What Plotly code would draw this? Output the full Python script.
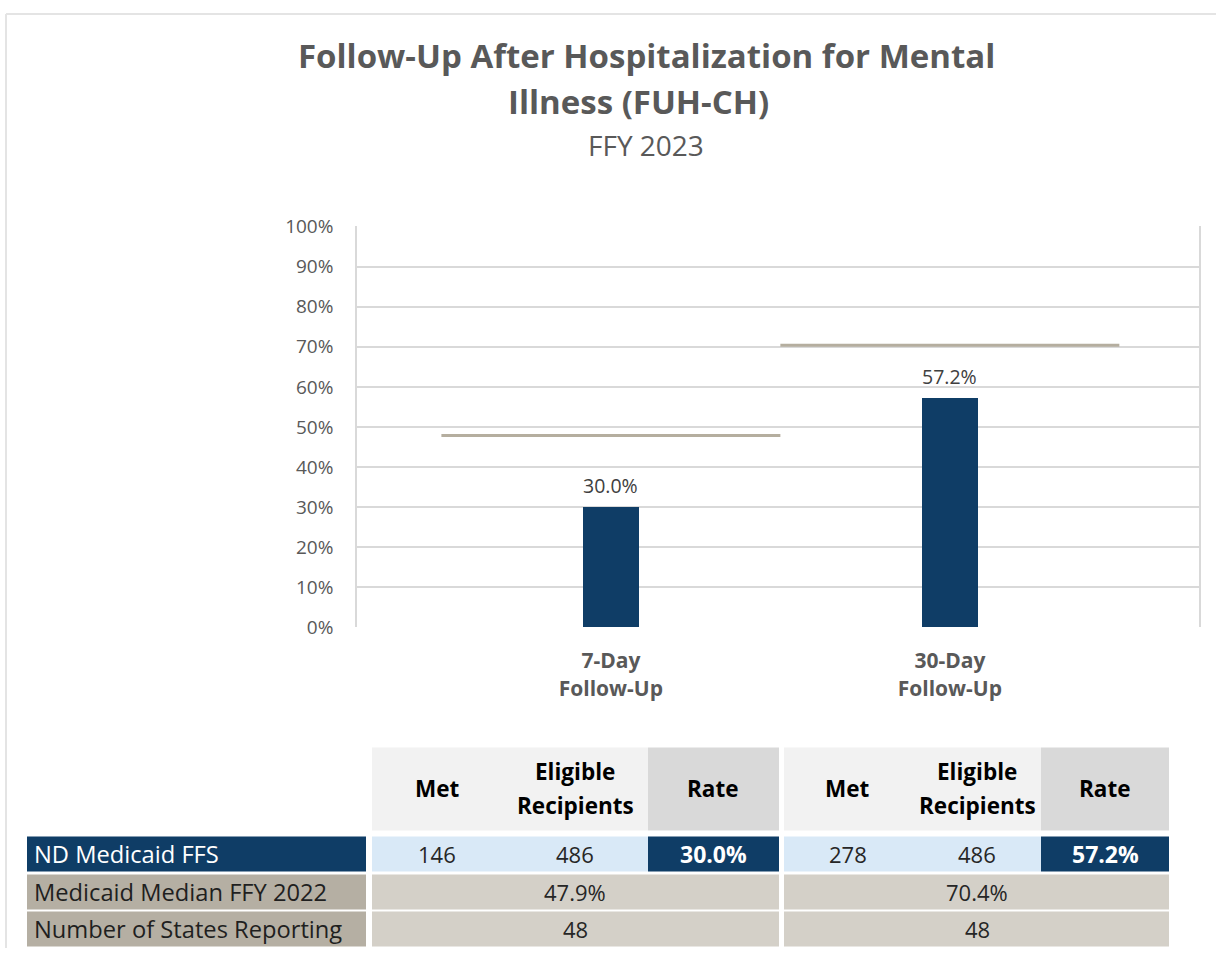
import plotly.graph_objects as go

# ---------------- data ----------------
categories = ["7-Day<br>Follow-Up", "30-Day<br>Follow-Up"]
nd_rate = [30.0, 57.2]
median_2022 = [47.9, 70.4]
met = [146, 278]
eligible = [486, 486]
states_reporting = [48, 48]
row_labels = ["ND Medicaid FFS", "Medicaid Median FFY 2022", "Number of States Reporting"]
header_labels = ["Met", "Eligible<br>Recipients", "Rate"]
y_ticks = list(range(0, 101, 10))
y_ticktext = [f"{v}%" for v in y_ticks]

W, H = 1216, 961
FONT = "Open Sans"
NAVY = "#0F3D66"
GRAY_TXT = "#595959"
TAN_LINE = "#B5AE9F"

# vertical mapping of target pixel rows to layout rows
YS, YO = 0.973, 14.5

def px(x):
    return x / W

def py(y):
    yl = (y - YO) / YS
    return 1 - yl / H

xpos = list(range(len(categories)))

fig = go.Figure()

# bars
fig.add_trace(go.Bar(
    x=xpos, y=nd_rate, width=0.165, marker=dict(color=NAVY, line=dict(width=0)),
    showlegend=False, hoverinfo="skip",
))
# median lines
for i, m in enumerate(median_2022):
    fig.add_trace(go.Scatter(
        x=[xpos[i] - 0.5, xpos[i] + 0.5], y=[m, m], mode="lines",
        line=dict(color=TAN_LINE, width=3), showlegend=False, hoverinfo="skip",
    ))

annotations = []
# data labels
for i, v in enumerate(nd_rate):
    annotations.append(dict(
        x=xpos[i], y=v, xref="x", yref="y", text=f"{v:.1f}%", showarrow=False,
        yanchor="bottom", yshift=6, font=dict(family=FONT, size=19.5, color="#404040"),
    ))

# titles
annotations.append(dict(x=px(646), y=py(57), xref="paper", yref="paper",
                        text="Follow-Up After Hospitalization for Mental", showarrow=False,
                        xanchor="center", yanchor="middle",
                        font=dict(family=FONT, size=33, color=GRAY_TXT, weight=700)))
annotations.append(dict(x=px(638), y=py(103), xref="paper", yref="paper",
                        text="Illness (FUH-CH)", showarrow=False,
                        xanchor="center", yanchor="middle",
                        font=dict(family=FONT, size=33, color=GRAY_TXT, weight=700)))
annotations.append(dict(x=px(646), y=py(147), xref="paper", yref="paper",
                        text="FFY 2023", showarrow=False,
                        xanchor="center", yanchor="middle",
                        font=dict(family=FONT, size=28, color=GRAY_TXT)))

shapes = []
# outer border (left & top)
shapes.append(dict(type="line", xref="paper", yref="paper", x0=px(6), x1=px(6), y0=0, y1=0.999,
                   line=dict(color="#E4E4E4", width=2)))
shapes.append(dict(type="line", xref="paper", yref="paper", x0=px(6), x1=1, y0=0.999, y1=0.999,
                   line=dict(color="#E4E4E4", width=2)))

def rect(x0, x1, y0, y1, color):
    shapes.append(dict(type="rect", xref="paper", yref="paper", x0=px(x0), x1=px(x1),
                       y0=py(y1), y1=py(y0), fillcolor=color, line=dict(width=0), layer="below"))

def text(x, y, t, size=22, color="#262626", weight=400, xanchor="center"):
    annotations.append(dict(x=px(x), y=py(y), xref="paper", yref="paper", text=t,
                            showarrow=False, xanchor=xanchor, yanchor="middle",
                            font=dict(family=FONT, size=size, color=color, weight=weight)))

# table geometry (pixels)
blocks = [(372, 648, 779), (784, 1041, 1169)]  # x0, rate start, x1
col_centers = [(437, 575, 713), (848, 977, 1105)]
hdr = (749, 832)
rows = [(838, 873), (876, 911), (913, 948)]
LIGHT = "#F2F2F2"
MID = "#D9D9D9"
LBLUE = "#D9E9F7"
TAN_LBL = "#B5AFA3"
TAN_VAL = "#D4D0C8"

for b, (x0, xr, x1) in enumerate(blocks):
    rect(x0, xr, hdr[0], hdr[1], LIGHT)
    rect(xr, x1, hdr[0], hdr[1], MID)
    hmid = (hdr[0] + hdr[1]) / 2
    for c, lab in enumerate(header_labels):
        lines = lab.split("<br>")
        n = len(lines)
        for k, ln in enumerate(lines):
            text(col_centers[b][c], hmid + (k - (n - 1) / 2) * 34, f"<b>{ln}</b>",
                 size=22.5, color="#000000")
    # row 1
    rect(x0, xr, rows[0][0], rows[0][1], LBLUE)
    rect(xr, x1, rows[0][0], rows[0][1], NAVY)
    ymid = (rows[0][0] + rows[0][1]) / 2
    text(col_centers[b][0], ymid, str(met[b]))
    text(col_centers[b][1], ymid, str(eligible[b]))
    text(col_centers[b][2], ymid, f"<b>{nd_rate[b]:.1f}%</b>", size=23, color="#FFFFFF")
    # row 2, 3
    rect(x0, x1, rows[1][0], rows[1][1], TAN_VAL)
    text(col_centers[b][1], (rows[1][0] + rows[1][1]) / 2, f"{median_2022[b]:.1f}%")
    rect(x0, x1, rows[2][0], rows[2][1], TAN_VAL)
    text(col_centers[b][1], (rows[2][0] + rows[2][1]) / 2, str(states_reporting[b]))

# label column
rect(27, 366, rows[0][0], rows[0][1], NAVY)
rect(27, 366, rows[1][0], rows[1][1], TAN_LBL)
rect(27, 366, rows[2][0], rows[2][1], TAN_LBL)
for r, lab in enumerate(row_labels):
    text(32, (rows[r][0] + rows[r][1]) / 2, lab, size=23.7,
         color="#FFFFFF" if r == 0 else "#1F1F1F", xanchor="left")

fig.update_layout(
    width=W, height=H,
    margin=dict(l=0, r=0, t=0, b=0),
    paper_bgcolor="white", plot_bgcolor="white",
    showlegend=False,
    xaxis=dict(
        domain=[px(357), px(1199)],
        range=[-0.749, 1.735],
        tickvals=xpos,
        ticktext=[f"<b>{c.replace('<br>', '</b><br><b>')}</b>" for c in categories],
        tickfont=dict(family=FONT, size=21, color=GRAY_TXT),
        showgrid=False, zeroline=False, showline=False, ticks="",
        ticklabelstandoff=19,
        fixedrange=True,
    ),
    yaxis=dict(
        domain=[py(629), py(228)],
        range=[0, 100],
        tickvals=y_ticks, ticktext=y_ticktext,
        tickfont=dict(family=FONT, size=19, color=GRAY_TXT),
        showgrid=True, gridcolor="#D9D9D9", gridwidth=1.5,
        zeroline=False, showline=True, linecolor="#D9D9D9", linewidth=1.5, mirror=True,
        ticks="", ticklabelstandoff=18,
        fixedrange=True,
    ),
    annotations=annotations,
    shapes=shapes,
    bargap=0,
)

fig.write_html("out.html", config={"displayModeBar": False},
               post_script="document.body.style.margin='0';document.body.style.overflow='hidden';")
